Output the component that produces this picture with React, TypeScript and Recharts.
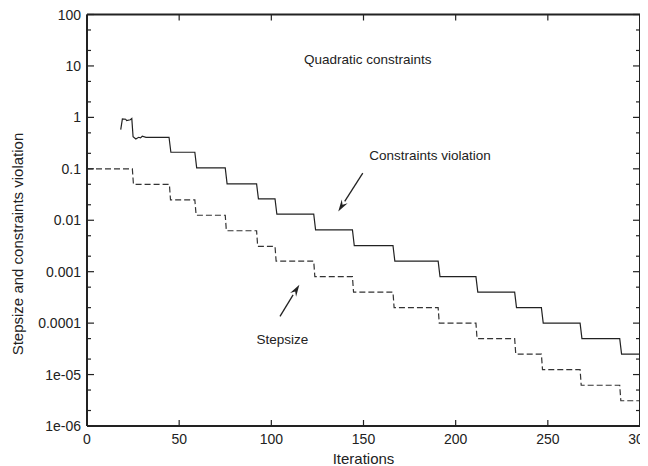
import React from "react";
import { LineChart, Line, XAxis, YAxis, ReferenceLine, ReferenceDot } from "recharts";

// constraints violation (solid)
const violationIter = [18.3, 19.2, 21, 21.5, 23.5, 24.3, 25, 26.5, 28, 29, 30, 32, 44.5, 45.5, 58.5, 59.5, 75, 76, 92, 93, 102, 103, 123, 124, 144, 145, 166, 167, 190.5, 191.5, 211, 212, 232, 233, 246.5, 247.5, 267.5, 268.5, 289, 290, 300];
const violationVal = [0.58, 0.93, 0.92, 0.87, 0.9, 0.95, 0.42, 0.38, 0.41, 0.4, 0.43, 0.41, 0.41, 0.21, 0.21, 0.104, 0.104, 0.051, 0.051, 0.026, 0.026, 0.0131, 0.0131, 0.0065, 0.0065, 0.0032, 0.0032, 0.0016, 0.0016, 0.0008, 0.0008, 0.0004, 0.0004, 0.0002, 0.0002, 0.0001, 0.0001, 5e-5, 5e-5, 2.5e-5, 2.5e-5];

// stepsize (dashed)
const stepIter = [0, 24.6, 25.2, 44.7, 45.3, 58.5, 59.2, 75, 75.6, 92, 92.6, 102, 102.6, 123, 123.6, 144, 144.6, 166, 166.6, 190.5, 191.1, 211, 211.6, 232, 232.6, 246.5, 247.1, 267.5, 268.1, 289, 289.6, 300];
const stepVal = [0.1, 0.1, 0.05, 0.05, 0.025, 0.025, 0.0125, 0.0125, 0.00625, 0.00625, 0.0031, 0.0031, 0.0016, 0.0016, 0.0008, 0.0008, 0.0004, 0.0004, 0.0002, 0.0002, 0.0001, 0.0001, 5e-5, 5e-5, 2.5e-5, 2.5e-5, 1.25e-5, 1.25e-5, 6.2e-6, 6.2e-6, 3.1e-6, 3.1e-6];

const xTicks = [0, 50, 100, 150, 200, 250, 300];
const yMajor = [1e-6, 1e-5, 1e-4, 1e-3, 0.01, 0.1, 1, 10, 100];
const yLabels = ["1e-06", "1e-05", "0.0001", "0.001", "0.01", "0.1", "1", "10", "100"];
const yMinor = [2e-6, 5e-6, 2e-5, 5e-5, 2e-4, 5e-4, 2e-3, 5e-3, 0.02, 0.05, 0.2, 0.5, 2, 5, 20, 50];
const yTicks = [...yMajor, ...yMinor].sort((a, b) => a - b);

const violationData = violationIter.map((x, i) => ({ x, v: violationVal[i] }));
const stepData = stepIter.map((x, i) => ({ x, v: stepVal[i] }));

const FONT = "'Liberation Sans', Arial, sans-serif";
const INK = "#222";
const TS = 1; // recharts tickSize, compensated in the custom ticks

const isMajor = (v: number) => yMajor.some((m) => Math.abs(m - v) / m < 1e-6);
const labelFor = (v: number) => yLabels[yMajor.findIndex((m) => Math.abs(m - v) / m < 1e-6)];

function LeftTick(props: any) {
  const { y, payload } = props;
  const x = props.x + TS;
  const major = isMajor(payload.value);
  return (
    <g>
      <line x1={x} x2={x + (major ? 7 : 4)} y1={y} y2={y} stroke={INK} strokeWidth={1.2} />
      {major && (
        <text x={x - 6} y={y} dy={5} textAnchor="end" fontSize={14} fontFamily={FONT} fill={INK}>
          {labelFor(payload.value)}
        </text>
      )}
    </g>
  );
}

function RightTick(props: any) {
  const { y, payload } = props;
  const x = props.x - TS;
  const major = isMajor(payload.value);
  return <line x1={x} x2={x - (major ? 7 : 4)} y1={y} y2={y} stroke={INK} strokeWidth={1.2} />;
}

function BottomTick(props: any) {
  const { x, payload } = props;
  const y = props.y - TS;
  return (
    <g>
      <line x1={x} x2={x} y1={y} y2={y - 6} stroke={INK} strokeWidth={1.2} />
      <text x={x} y={y + 18} textAnchor="middle" fontSize={14} fontFamily={FONT} fill={INK}>
        {payload.value}
      </text>
    </g>
  );
}

function TopTick(props: any) {
  const { x } = props;
  const y = props.y + TS;
  return <line x1={x} x2={x} y1={y} y2={y + 6} stroke={INK} strokeWidth={1.2} />;
}

function Arrow(props: any) {
  const { x1, y1, x2, y2 } = props;
  const ang = Math.atan2(y2 - y1, x2 - x1);
  const len = 12;
  const w = 3.5;
  const bx = x2 - len * Math.cos(ang);
  const by = y2 - len * Math.sin(ang);
  const px = -Math.sin(ang) * w;
  const py = Math.cos(ang) * w;
  return (
    <g>
      <line x1={x1} y1={y1} x2={bx} y2={by} stroke={INK} strokeWidth={1.3} />
      <polygon points={`${x2},${y2} ${bx + px},${by + py} ${bx + 4 * Math.cos(ang)},${by + 4 * Math.sin(ang)} ${bx - px},${by - py}`} fill={INK} />
    </g>
  );
}

const textDot = (txt: string) => (p: any) => (
  <text x={p.cx} y={p.cy} dy={5} textAnchor="middle" fontSize={13.5} fontFamily={FONT} fill={INK}>
    {txt}
  </text>
);

export default function App() {
  return (
    <div style={{ position: "relative", width: 640, height: 458 }}>
      <LineChart width={640} height={458} data={violationData} margin={{ top: 5.5, right: 7, bottom: 10, left: 9 }}>
        <XAxis
          xAxisId="b"
          dataKey="x"
          type="number"
          domain={[0, 300]}
          ticks={xTicks}
          allowDataOverflow
          tick={<BottomTick />}
          tickLine={false}
          tickSize={TS}
          tickMargin={0}
          height={30}
          interval={0}
          axisLine={{ stroke: INK, strokeWidth: 2 }}
          label={{ value: "Iterations", position: "insideBottom", offset: -8, fontSize: 15, fontFamily: FONT, fill: INK }}
        />
        <XAxis
          xAxisId="t"
          orientation="top"
          dataKey="x"
          type="number"
          domain={[0, 300]}
          ticks={xTicks}
          allowDataOverflow
          tick={<TopTick />}
          tickLine={false}
          tickSize={TS}
          tickMargin={0}
          height={1}
          interval={0}
          axisLine={{ stroke: INK, strokeWidth: 2 }}
        />
        <YAxis
          yAxisId="l"
          dataKey="v"
          scale="log"
          domain={[1e-6, 100]}
          ticks={yTicks}
          allowDataOverflow
          tick={<LeftTick />}
          tickLine={false}
          tickSize={TS}
          tickMargin={0}
          width={70}
          interval={0}
          axisLine={{ stroke: INK, strokeWidth: 2 }}
        />
        <YAxis
          yAxisId="r"
          orientation="right"
          dataKey="v"
          scale="log"
          domain={[1e-6, 100]}
          ticks={yTicks}
          allowDataOverflow
          tick={<RightTick />}
          tickLine={false}
          tickSize={TS}
          tickMargin={0}
          width={1}
          interval={0}
          axisLine={{ stroke: INK, strokeWidth: 2 }}
        />
        <Line
          xAxisId="b"
          yAxisId="l"
          data={stepData}
          dataKey="v"
          type="linear"
          stroke="#333"
          strokeWidth={1.2}
          strokeDasharray="6 3"
          dot={false}
          isAnimationActive={false}
        />
        <Line
          xAxisId="b"
          yAxisId="l"
          data={violationData}
          dataKey="v"
          type="linear"
          stroke={INK}
          strokeWidth={1.2}
          dot={false}
          isAnimationActive={false}
        />
        <ReferenceLine
          xAxisId="b"
          yAxisId="l"
          segment={[{ x: 149.6, y: 0.0826 }, { x: 136.3, y: 0.01483 }]}
          shape={<Arrow />}
          ifOverflow="visible"
        />
        <ReferenceLine
          xAxisId="b"
          yAxisId="l"
          segment={[{ x: 104.7, y: 1.355e-4 }, { x: 115.2, y: 5.6e-4 }]}
          shape={<Arrow />}
          ifOverflow="visible"
        />
        <ReferenceDot xAxisId="b" yAxisId="l" x={152.3} y={13.7} r={0} shape={textDot("Quadratic constraints")} ifOverflow="visible" />
        <ReferenceDot xAxisId="b" yAxisId="l" x={186.1} y={0.187} r={0} shape={textDot("Constraints violation")} ifOverflow="visible" />
        <ReferenceDot xAxisId="b" yAxisId="l" x={106} y={5e-5} r={0} shape={textDot("Stepsize")} ifOverflow="visible" />
      </LineChart>
      <div
        style={{
          position: "absolute",
          left: 9,
          top: 236,
          transform: "translate(-50%, -50%) rotate(-90deg)",
          whiteSpace: "nowrap",
          fontSize: 15,
          fontFamily: FONT,
          color: INK,
        }}
      >
        Stepsize and constraints violation
      </div>
    </div>
  );
}
